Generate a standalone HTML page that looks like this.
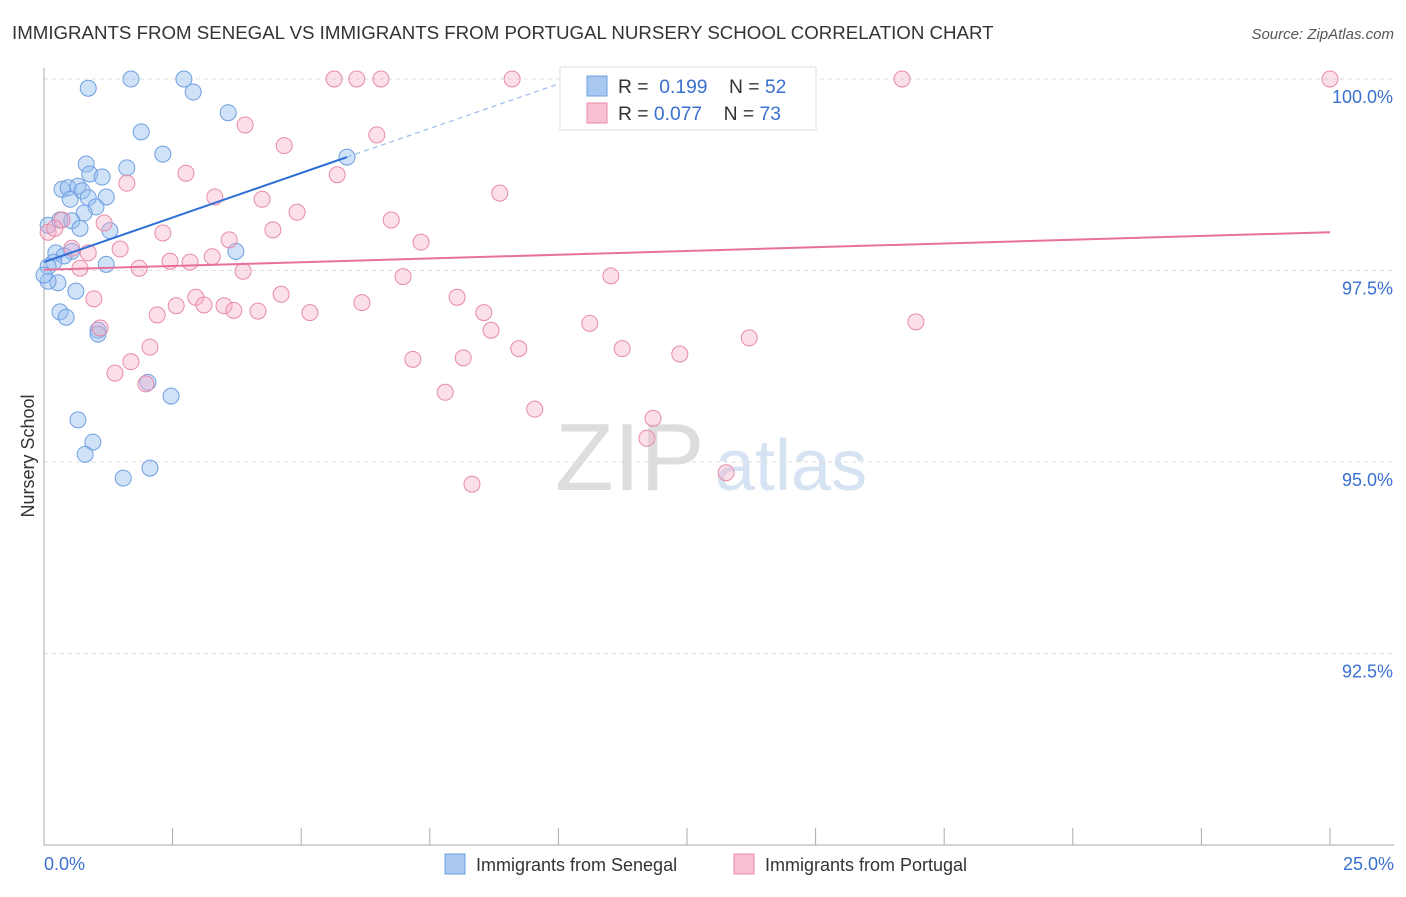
<!DOCTYPE html>
<html><head><meta charset="utf-8"><style>
html,body{margin:0;padding:0;background:#fff;}
body{width:1406px;height:892px;overflow:hidden;font-family:"Liberation Sans",sans-serif;}
svg text{font-family:"Liberation Sans",sans-serif;}
</style></head><body>
<svg id="chart" width="1406" height="892">
<text x="12" y="39" font-size="18.7" fill="#333">IMMIGRANTS FROM SENEGAL VS IMMIGRANTS FROM PORTUGAL NURSERY SCHOOL CORRELATION CHART</text>
<text x="1394" y="39" font-size="15" fill="#555" font-style="italic" text-anchor="end">Source: ZipAtlas.com</text>
<text transform="translate(34,456) rotate(-90)" font-size="18" fill="#333" text-anchor="middle">Nursery School</text>
<g><text x="555" y="490" font-size="96" fill="#ddd" font-family="Liberation Serif">ZIP</text><text x="715" y="490" font-size="72" fill="#d5e3f3">atlas</text></g>
<g id="grid"></g><g id="axes"></g><g id="pts"></g><g id="trend"></g>
<g>
<rect x="560" y="67" width="256" height="63" fill="#fff" stroke="#ddd"/>
<rect x="587" y="76" width="20" height="20" fill="#a9c8f0" stroke="#6f9fe0"/>
<rect x="587" y="103" width="20" height="20" fill="#f8c0d2" stroke="#e88aa8"/>
<text x="618" y="93" font-size="19.3" fill="#333">R = <tspan fill="#3a70d0">&#160;0.199</tspan>&#160;&#160;&#160; N = <tspan fill="#3a70d0">52</tspan></text>
<text x="618" y="120" font-size="19.3" fill="#333">R = <tspan fill="#3a70d0">0.077</tspan>&#160;&#160;&#160; N = <tspan fill="#3a70d0">73</tspan></text>
</g>
<g>
<rect x="445" y="854" width="20" height="20" fill="#a9c8f0" stroke="#6f9fe0"/>
<text x="476" y="871" font-size="18" fill="#333">Immigrants from Senegal</text>
<rect x="734" y="854" width="20" height="20" fill="#f8c0d2" stroke="#e88aa8"/>
<text x="765" y="871" font-size="18" fill="#333">Immigrants from Portugal</text>
</g>
</svg>
<script>
const yTicks=[100,97.5,95,92.5];
const yTickLabels=["100.0%","97.5%","95.0%","92.5%"];
const xTickLabels=["0.0%","25.0%"];
const senegalX=[0.86,1.69,2.72,2.90,3.58,1.89,2.31,5.89,0.82,1.61,0.89,1.13,0.35,0.47,0.66,0.74,0.51,0.86,1.21,1.01,0.78,0.08,0.31,0.54,0.70,1.28,0.23,0.54,0.39,0.19,0.08,1.21,3.73,0.27,0.08,0.62,0.31,0.43,1.05,1.05,2.02,2.47,0.66,0.95,0.80,2.06,1.54,0.0];
const senegalY=[99.88,100,100,99.83,99.56,99.31,99.02,98.98,98.89,98.84,98.76,98.72,98.56,98.58,98.60,98.54,98.43,98.45,98.46,98.33,98.25,98.09,98.16,98.15,98.05,98.02,97.73,97.75,97.69,97.61,97.55,97.58,97.75,97.34,97.36,97.23,96.96,96.89,96.72,96.67,96.04,95.86,95.55,95.26,95.10,94.92,94.79,97.44];
const portugalX=[5.64,6.08,6.55,9.10,13.92,16.68,25.0,3.91,6.47,4.67,2.76,5.70,1.61,8.86,3.32,4.24,4.92,6.75,0.08,2.31,4.45,0.35,1.17,0.21,7.33,3.60,0.54,1.48,0.86,3.27,2.45,2.84,0.70,1.85,3.87,6.98,11.02,0.97,2.95,4.61,8.03,2.57,3.11,3.50,3.69,4.16,6.18,5.17,8.55,2.20,8.69,10.61,16.95,1.09,2.06,9.23,11.24,12.36,13.71,7.17,8.15,1.69,1.38,1.98,7.80,9.54,11.84,11.72,13.26,8.32];
const portugalY=[100,100,100,100,100,100,100,99.40,99.27,99.13,98.77,98.75,98.64,98.51,98.46,98.43,98.26,98.16,98.00,97.99,98.03,98.16,98.12,98.05,97.87,97.90,97.79,97.78,97.73,97.68,97.62,97.61,97.53,97.53,97.49,97.42,97.43,97.13,97.15,97.19,97.15,97.04,97.05,97.04,96.98,96.97,97.08,96.95,96.95,96.92,96.72,96.81,96.83,96.75,96.50,96.48,96.48,96.41,96.62,96.34,96.36,96.31,96.16,96.02,95.91,95.69,95.57,95.31,94.86,94.71];
const senegalTrend=[97.61,0.2326];
const portugalTrend=[97.51,0.0196];
const NS="http://www.w3.org/2000/svg";
const X=v=>44+v*(1286/25);
const Y=v=>79+(100-v)*(191.5/2.5);
function mk(parent,tag,attrs){const e=document.createElementNS(NS,tag);for(const k in attrs)e.setAttribute(k,attrs[k]);document.getElementById(parent).appendChild(e);return e;}
yTicks.forEach((t,i)=>{
  const l=mk('grid','line',{x1:44,x2:1394,y1:Y(t),y2:Y(t),stroke:'#ddd','stroke-dasharray':'4,4'});
  
  
  const tx=mk('grid','text',{x:1393,y:Y(t)+24,'font-size':18,fill:'#3a70d0','text-anchor':'end'});
  tx.textContent=yTickLabels[i];
  
  
});
const ax=mk('axes','line',{x1:44,x2:44,y1:68,y2:845,stroke:'#aaa'});


const bx=mk('axes','line',{x1:44,x2:1394,y1:845,y2:845,stroke:'#aaa'});


for(let i=0;i<=10;i++){const t=mk('axes','line',{x1:X(i*2.5),x2:X(i*2.5),y1:828,y2:845,stroke:'#aaa'});
  
  }
[[0,'start',44],[25,'end',1394]].forEach((d,i)=>{const t=mk('axes','text',{x:d[2],y:870,'font-size':18,fill:'#3a70d0','text-anchor':d[1]});t.textContent=xTickLabels[i];
  
  });
senegalX.forEach((v,i)=>{const c=mk('pts','circle',{cx:X(v),cy:Y(senegalY[i]),r:8,fill:'rgba(150,190,240,0.45)',stroke:'#6f9fe0','stroke-width':1});
  
  });
portugalX.forEach((v,i)=>{const c=mk('pts','circle',{cx:X(v),cy:Y(portugalY[i]),r:8,fill:'rgba(245,175,200,0.4)',stroke:'#e88aa8','stroke-width':1});
  
  });
const sEnd=5.89,sDash=(100-senegalTrend[0])/senegalTrend[1];
const s1=mk('trend','line',{x1:X(0),y1:Y(senegalTrend[0]),x2:X(sEnd),y2:Y(senegalTrend[0]+senegalTrend[1]*sEnd),stroke:'#2f6fd6','stroke-width':2});


const s2=mk('trend','line',{x1:X(sEnd),y1:Y(senegalTrend[0]+senegalTrend[1]*sEnd),x2:X(sDash),y2:Y(100),stroke:'#9bbbe8','stroke-width':1.2,'stroke-dasharray':'5,4'});


const p1=mk('trend','line',{x1:X(0),y1:Y(portugalTrend[0]),x2:X(25),y2:Y(portugalTrend[0]+portugalTrend[1]*25),stroke:'#e8709a','stroke-width':2});


</script>
</body></html>
